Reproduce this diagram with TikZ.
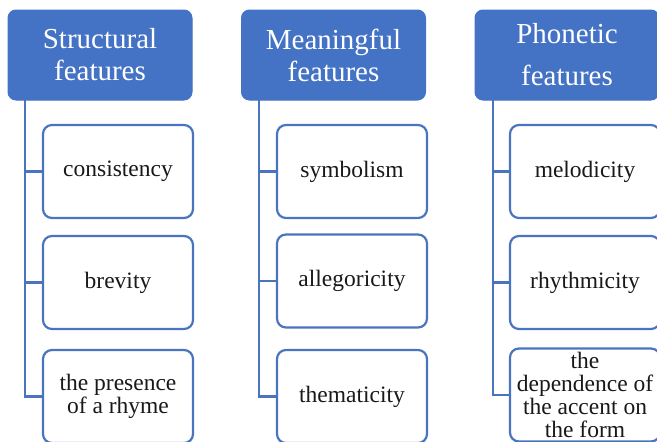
\documentclass[tikz,border=0pt]{standalone}
\usepackage{fontspec}
\setmainfont{Liberation Serif}
\definecolor{hblue}{HTML}{4472C4}
\definecolor{bblue}{HTML}{4A74C0}
\begin{document}
\begin{tikzpicture}[x=1pt,y=-1pt,
  head/.style={fill=hblue,draw=hblue,line width=1pt,rounded corners=8pt,minimum width=184pt,minimum height=90pt,text=white,font=\fontsize{29}{32}\selectfont,align=center,inner sep=0pt},
  item/.style={fill=white,draw=bblue,line width=2.2pt,rounded corners=9pt,minimum width=150pt,minimum height=93pt,text=black!90,font=\fontsize{23.5}{23.5}\selectfont,align=center,inner sep=0pt},
  link/.style={draw=bblue,line width=2.2pt}]
\useasboundingbox (0,0) rectangle (657,442);
\clip (0,0) rectangle (657,442);
% headers
\node[head] (h1) at (100,55) {Structural\\features};
\node[head] (h2) at (333.5,55) {Meaningful\\features};
\node[head,font=\fontsize{29}{42}\selectfont] (h3) at (567,55) {Phonetic\\features};
% items
\node[item] (a1) at (118,171.5) {consistency};
\node[item] (a2) at (118,282.5) {brevity};
\node[item] (a3) at (118,396.5) {the presence\\of a rhyme};
\node[item] (b1) at (352,171.5) {symbolism};
\node[item] (b2) at (352,281) {allegoricity};
\node[item] (b3) at (352,396.5) {thematicity};
\node[item] (c1) at (585,171.5) {melodicity};
\node[item] (c2) at (585,282.5) {rhythmicity};
\node[item,font=\fontsize{23.5}{23}\selectfont] (c3) at (585,395) {the\\dependence of\\the accent on\\the form};
% trunks
\coordinate (t1) at (25,100);
\coordinate (t2) at (259,100);
\coordinate (t3) at (493,100);
\draw[link] (t1) |- (a3.west);
\draw[link] (t1 |- a1.west) -- (a1.west);
\draw[link] (t1 |- a2.west) -- (a2.west);
\draw[link] (t2) |- (b3.west);
\draw[link] (t2 |- b1.west) -- (b1.west);
\draw[link] (t2 |- b2.west) -- (b2.west);
\draw[link] (t3) |- (c3.west);
\draw[link] (t3 |- c1.west) -- (c1.west);
\draw[link] (t3 |- c2.west) -- (c2.west);
\end{tikzpicture}
\end{document}
